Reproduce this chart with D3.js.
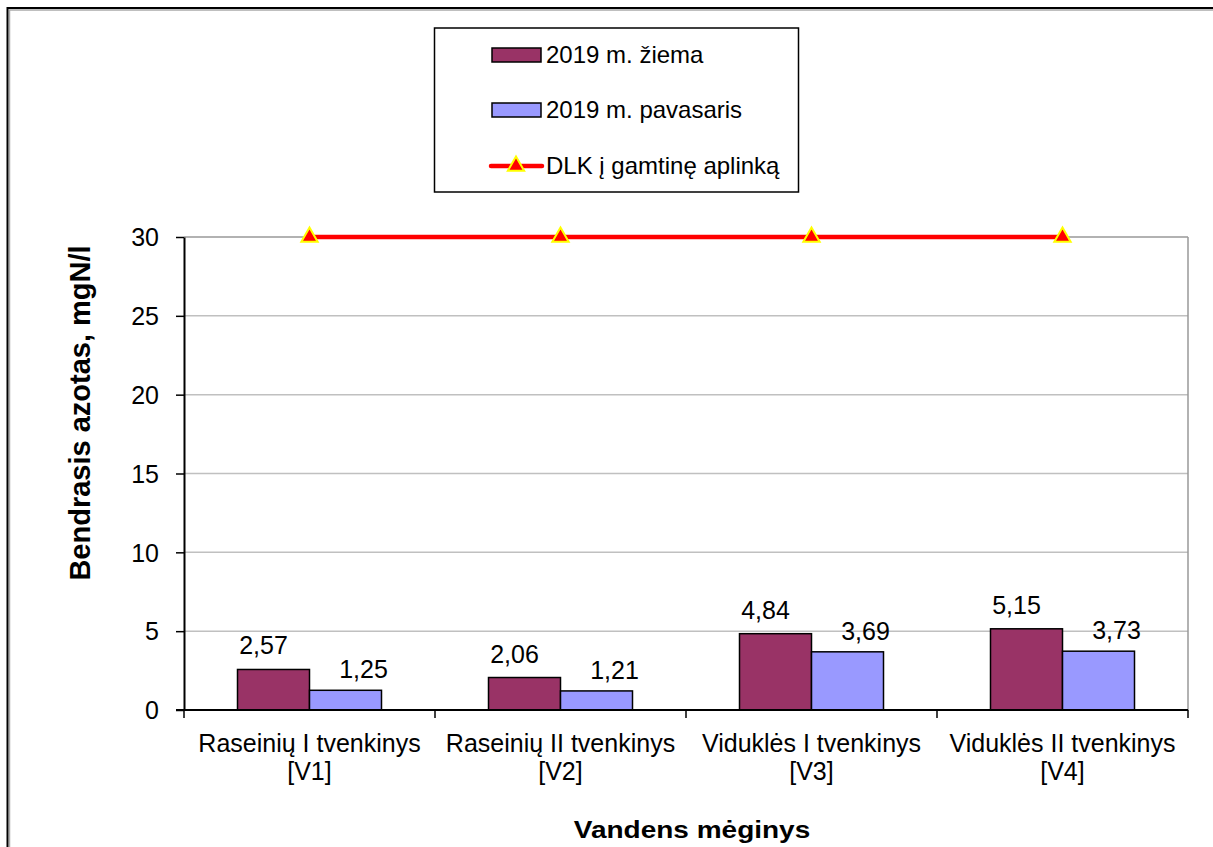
<!DOCTYPE html>
<html><head><meta charset="utf-8">
<script src="https://cdn.jsdelivr.net/npm/d3@7"></script>
<style>body{margin:0;background:#fff}svg{display:block;font-family:"Liberation Sans",Arial,sans-serif}</style>
</head><body><svg id="c" width="1213" height="847"></svg>
<script>
const categories = [["Raseinių I tvenkinys","[V1]"],["Raseinių II tvenkinys","[V2]"],["Viduklės I tvenkinys","[V3]"],["Viduklės II tvenkinys","[V4]"]];
const winter = [2.57, 2.06, 4.84, 5.15];
const spring = [1.25, 1.21, 3.69, 3.73];
const limit = [30, 30, 30, 30];
const yTicks = [0, 5, 10, 15, 20, 25, 30];
const seriesNames = ["2019 m. žiema", "2019 m. pavasaris", "DLK į gamtinę aplinką"];

const svg = d3.select("#c");
const L = 184, R = 1188, T = 237, B = 710;
const x = d3.scaleBand().domain(d3.range(categories.length)).range([L, R]);
const y = d3.scaleLinear().domain([0, 30]).range([B, T]);
const fmt = v => d3.format(".2f")(v).replace(".", ",");
const FS = 24;

// outer border
svg.append("rect").attr("x", 9.5).attr("y", 10).attr("width", 1220).attr("height", 850).attr("fill", "none").attr("stroke", "#aaa").attr("stroke-width", 1.5);
svg.append("rect").attr("x", 7.5).attr("y", 8).attr("width", 1220).attr("height", 850).attr("fill", "none").attr("stroke", "#000").attr("stroke-width", 2);

// gridlines
svg.append("g").selectAll("line").data(yTicks.slice(1)).join("line")
  .attr("x1", L).attr("x2", R).attr("y1", d => y(d)).attr("y2", d => y(d))
  .attr("stroke", d => d === 30 ? "#999" : "#c0c0c0").attr("stroke-width", 1.5);
svg.append("line").attr("x1", R).attr("x2", R).attr("y1", T).attr("y2", B).attr("stroke", "#999").attr("stroke-width", 1.5);

// y axis
const ya = svg.append("g").attr("transform", `translate(${L},0)`)
  .call(d3.axisLeft(y).tickValues(yTicks).tickSize(8).tickPadding(17).tickSizeOuter(0));
ya.select(".domain").attr("stroke", "#000").attr("stroke-width", 2);
ya.selectAll(".tick line").attr("stroke", "#000").attr("stroke-width", 1.5);
ya.selectAll("text").attr("font-size", 25).attr("fill", "#000").attr("dy", "0.35em")
  .style("font-family", "Liberation Sans, Arial, sans-serif");

// bars
const bw = 72;
const g = svg.append("g");
categories.forEach((c, i) => {
  const cx = x(i) + x.bandwidth() / 2;
  g.append("rect").attr("x", cx - bw).attr("y", y(winter[i])).attr("width", bw).attr("height", y(0) - y(winter[i]))
    .attr("fill", "#993366").attr("stroke", "#000").attr("stroke-width", 1.5);
  g.append("rect").attr("x", cx).attr("y", y(spring[i])).attr("width", bw).attr("height", y(0) - y(spring[i]))
    .attr("fill", "#9999ff").attr("stroke", "#000").attr("stroke-width", 1.5);
  g.append("text").attr("x", cx - bw / 2 - 10).attr("y", y(winter[i]) - 15).attr("text-anchor", "middle")
    .attr("font-size", 25).text(fmt(winter[i]));
  g.append("text").attr("x", cx + bw / 2 + 18).attr("y", y(spring[i]) - 12).attr("text-anchor", "middle")
    .attr("font-size", 25).text(fmt(spring[i]));
});

// x axis
const xa = svg.append("g").attr("transform", `translate(0,${B})`);
xa.append("line").attr("x1", L - 8).attr("x2", R).attr("y1", 0).attr("y2", 0).attr("stroke", "#000").attr("stroke-width", 2);
d3.range(categories.length + 1).forEach(i => {
  const xx = i < categories.length ? x(i) : R;
  xa.append("line").attr("x1", xx).attr("x2", xx).attr("y1", 0).attr("y2", 8).attr("stroke", "#000").attr("stroke-width", 1.5);
});
categories.forEach((c, i) => {
  const cx = x(i) + x.bandwidth() / 2;
  const t = xa.append("text").attr("text-anchor", "middle").attr("font-size", FS + 1);
  t.append("tspan").attr("x", cx).attr("y", 42).text(c[0]);
  t.append("tspan").attr("x", cx).attr("y", 70).text(c[1]);
});

// limit line
const line = d3.line().x((d, i) => x(i) + x.bandwidth() / 2).y(d => y(d));
svg.append("path").datum(limit).attr("d", line).attr("fill", "none").attr("stroke", "#ff0000").attr("stroke-width", 4.5);
const tri = d3.symbol().type(d3.symbolTriangle).size(115);
svg.append("g").selectAll("path").data(limit).join("path")
  .attr("d", tri).attr("transform", (d, i) => `translate(${x(i) + x.bandwidth() / 2},${y(d)})`)
  .attr("fill", "#ff0000").attr("stroke", "#ffff00").attr("stroke-width", 2);

// titles
svg.append("text").attr("transform", `translate(90,413) rotate(-90)`).attr("text-anchor", "middle")
  .attr("font-size", 29).attr("font-weight", "bold").text("Bendrasis azotas, mgN/l");
svg.append("text").attr("transform", `translate(${(L + R) / 2 + 6},838) scale(1,0.86)`).attr("text-anchor", "middle")
  .attr("font-size", 28).attr("font-weight", "bold").text("Vandens mėginys");

// legend
const lg = svg.append("g");
lg.append("rect").attr("x", 434.5).attr("y", 28).attr("width", 364).attr("height", 164).attr("fill", "#fff").attr("stroke", "#000").attr("stroke-width", 1.5);
const ly = [55, 110, 166];
lg.append("rect").attr("x", 492).attr("y", ly[0] - 7).attr("width", 49).attr("height", 14).attr("fill", "#993366").attr("stroke", "#000").attr("stroke-width", 1.5);
lg.append("rect").attr("x", 492).attr("y", ly[1] - 7).attr("width", 49).attr("height", 14).attr("fill", "#9999ff").attr("stroke", "#000").attr("stroke-width", 1.5);
lg.append("line").attr("x1", 491).attr("x2", 542).attr("y1", ly[2]).attr("y2", ly[2]).attr("stroke", "#ff0000").attr("stroke-width", 4.5).attr("stroke-linecap", "round");
lg.append("path").attr("d", tri).attr("transform", `translate(516,${ly[2]})`).attr("fill", "#ff0000").attr("stroke", "#ffff00").attr("stroke-width", 2);
seriesNames.forEach((s, i) => {
  lg.append("text").attr("x", 546).attr("y", ly[i] + 8).attr("font-size", FS).text(s);
});
</script></body></html>
